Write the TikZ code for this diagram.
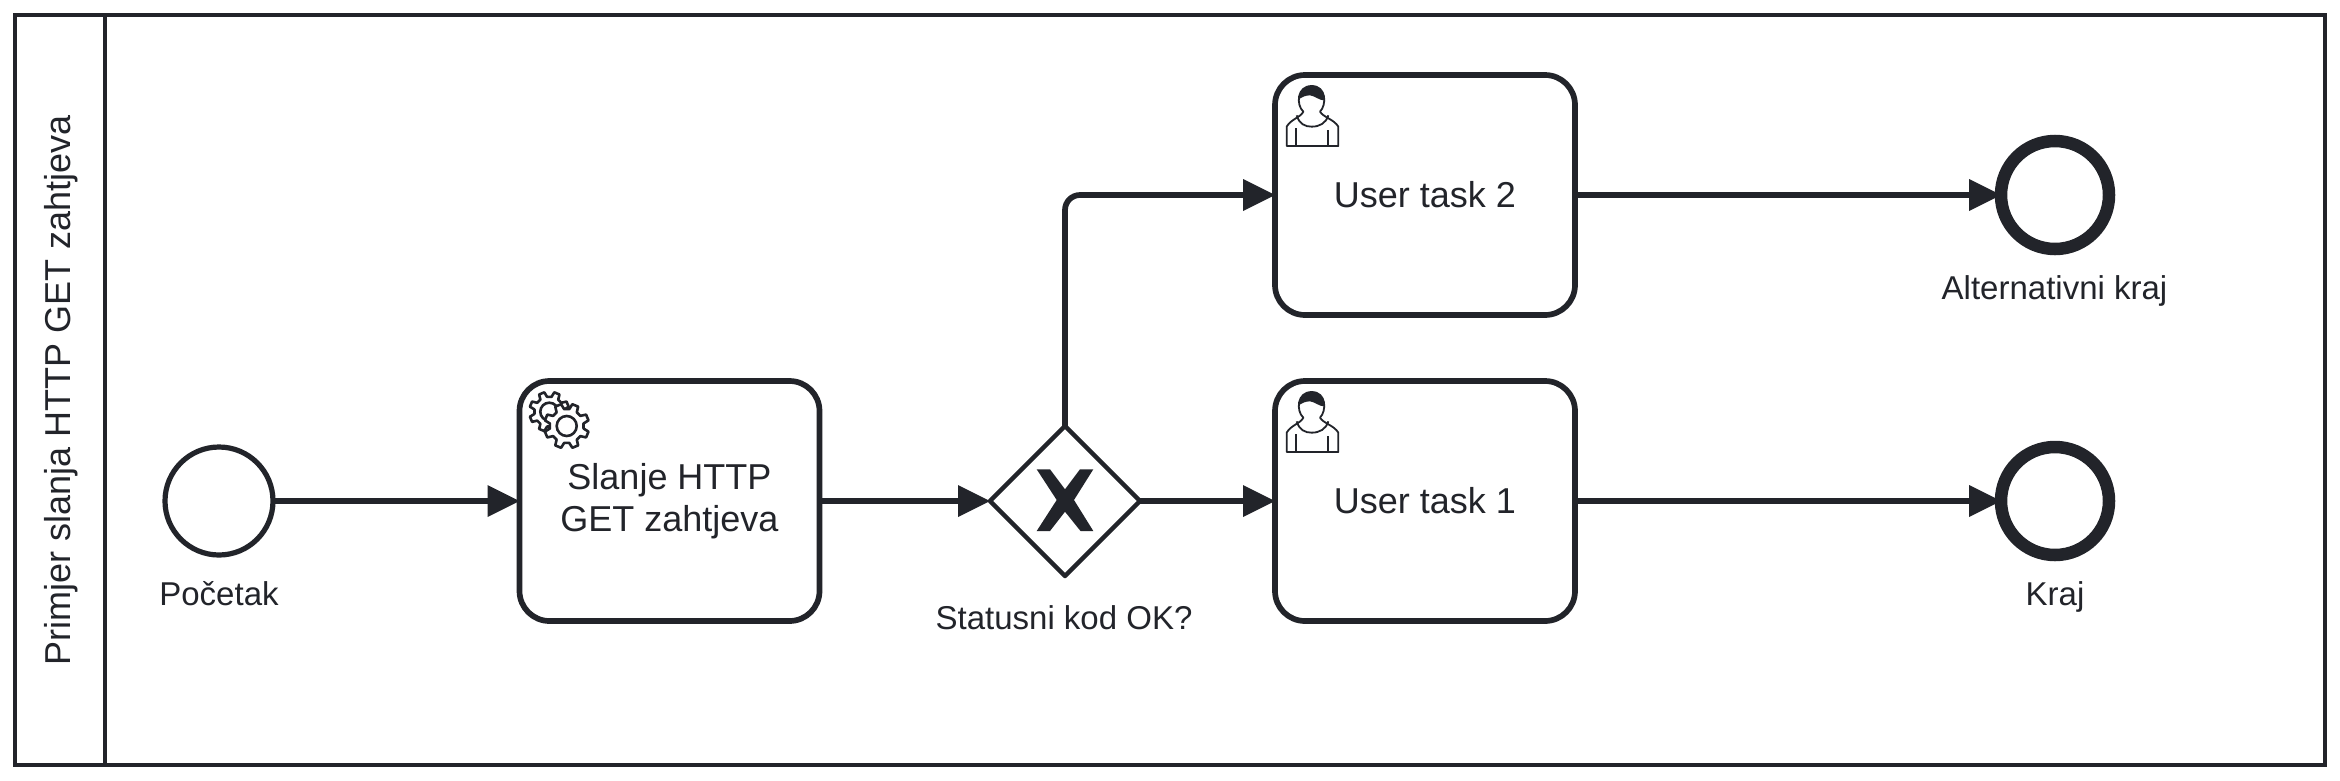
\documentclass[tikz,border=0pt]{standalone}
\usepackage{fontspec}
\setmainfont{Liberation Sans}
\usetikzlibrary{arrows.meta,shapes.geometric}
\definecolor{ink}{HTML}{22242A}
\tikzset{
  every node/.style={text=ink,inner sep=0pt,outer sep=0pt},
  pool/.style={draw=ink,line width=4.5pt,fill=white,minimum width=2310pt,minimum height=750pt},
  lanetitle/.style={font=\fontsize{36}{43}\selectfont,rotate=90},
  task/.style={draw=ink,line width=5.7pt,fill=white,rounded corners=30pt,minimum width=300pt,minimum height=240pt,align=center,font=\fontsize{36}{42}\selectfont},
  startev/.style={circle,draw=ink,line width=5.2pt,fill=white,minimum size=108pt},
  endev/.style={circle,draw=ink,line width=12.5pt,fill=white,minimum size=108pt},
  gate/.style={diamond,aspect=1,draw=ink,line width=4.5pt,line join=round,fill=white,minimum size=150pt},
  lab/.style={font=\fontsize{33}{40}\selectfont,anchor=base},
  flow/.style={draw=ink,line width=5.7pt,-{Triangle[length=32pt,width=32pt,line width=0pt]}},
  gearline/.style={draw=ink,line width=2.6pt,line join=round,fill=white},
  person/.pic={
    \begin{scope}[x=0.33333pt,y=-0.33333pt,line width=1.8pt,draw=ink,line join=round]
      \draw[fill=white] (130,155) .. controls (122,172) and (92,178) .. (80,200) -- (80,258) -- (235,258) -- (235,200) .. controls (222,178) and (190,172) .. (180,155) .. controls (200,135) and (200,78) .. (155,78) .. controls (110,78) and (108,135) .. (130,155) -- cycle;
      \fill[ink] (116,118) .. controls (118,90) and (135,78) .. (155,78) .. controls (178,78) and (195,95) .. (195,122) .. controls (175,120) and (165,108) .. (150,106) .. controls (135,106) and (125,112) .. (116,118) -- cycle;
      \draw (110,166) .. controls (118,192) and (135,200) .. (155,200) .. controls (178,200) and (198,190) .. (205,166);
      \draw (107,205) -- (107,258);
      \draw (205,210) -- (205,258);
    \end{scope}
  }
}
\newcommand{\gearicon}[4]{%
  \begin{scope}[shift={(#1,#2)}]
    \path[gearline] (8:#4)
      \foreach \k in {0,...,7}{
        -- ({\k*45+22.5-14}:#4) -- ({\k*45+22.5-8}:#3) -- ({\k*45+22.5+8}:#3) -- ({\k*45+22.5+14}:#4)
      } -- cycle;
  \end{scope}}
\begin{document}
\begin{tikzpicture}[x=1pt,y=-1pt]
  \path[fill=white,use as bounding box] (0,0) rectangle (2340,780);
  \node[pool] (poolbox) at (1170,390) {};
  \coordinate (lanetop) at (105,15);
  \coordinate (lanebot) at (105,765);
  \draw[draw=ink,line width=4.5pt] (lanetop) -- (lanebot);
  \node[lanetitle] (lane) at (61.5,390) {Primjer slanja HTTP GET zahtjeva};

  \node[startev] (start) at (219,501) {};
  \node[lab] (startlab) at (219,605) {Početak};
  \node[task] (send) at (669.5,501) {Slanje HTTP\\GET zahtjeva};
  \node[gate] (gw) at (1065,501) {};
  \node[lab] (gwlab) at (1064,629) {Statusni kod OK?};
  \node[task] (ut2) at (1425,195) {User task 2};
  \node[task] (ut1) at (1425,501) {User task 1};
  \node[endev] (end2) at (2055,195) {};
  \node[lab] (end2lab) at (2054.5,299.5) {Alternativni kraj};
  \node[endev] (end1) at (2055,501) {};
  \node[lab] (end1lab) at (2055,605) {Kraj};

  \fill[ink] (1036.7,469.3) -- (1050,469.3) -- (1065,489.3) -- (1080,469.3) -- (1093.3,469.3) -- (1074,500) -- (1093.3,531) -- (1080.5,531) -- (1065,511.7) -- (1050,531) -- (1036.7,531) -- (1056.7,500) -- cycle;

  \gearicon{549.3}{411.7}{20}{15}
  \draw[draw=ink,line width=2.6pt] (549.3,411.7) circle (9);
  \gearicon{566.7}{426}{22.5}{17}
  \draw[draw=ink,line width=2.6pt,fill=white] (566.7,426) circle (10);

  \path (1260,60) pic {person};
  \path (1260,366) pic {person};

  \draw[flow] (start.east) -- (send.west);
  \draw[flow] (send.east) -- (gw.west);
  \draw[flow] (gw.east) -- (ut1.west);
  \draw[flow,rounded corners=15pt] (gw.north) |- (ut2.west);
  \draw[flow] (ut2.east) -- (end2.west);
  \draw[flow] (ut1.east) -- (end1.west);
\end{tikzpicture}
\end{document}
